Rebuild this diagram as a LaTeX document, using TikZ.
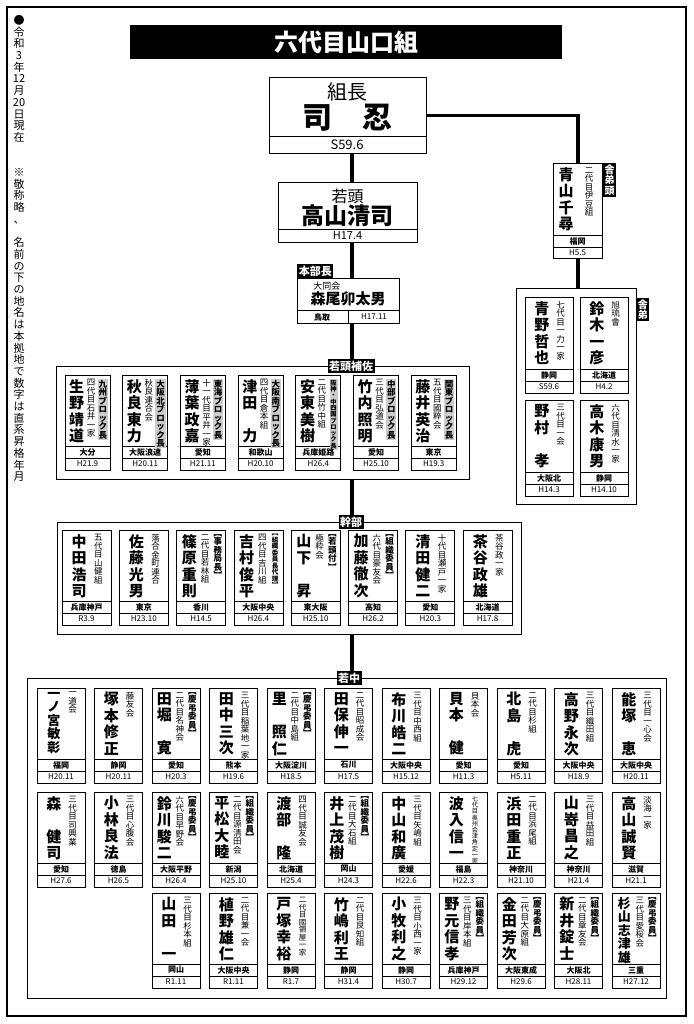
\documentclass[tikz,border=0pt]{standalone}
\usepackage{fontspec}
\setmainfont{Noto Sans CJK JP}
\usepackage{tikz}
\usetikzlibrary{positioning}

\makeatletter
% vertical text: one token per line
\def\vt@end{\@nil}
\newcommand\vt[1]{\def\vsbuf{}\vt@#1\@nil
  \vbox{\lineskiplimit=-\maxdimen\lineskip=0pt\halign{\hfil##\hfil\cr\vsbuf\cr}}}
\def\vt@#1{\def\vt@tmp{#1}%
  \ifx\vt@tmp\vt@end\else
    \ifx\vsbuf\@empty\def\vsbuf{#1}\else
      \expandafter\def\expandafter\vsbuf\expandafter{\vsbuf\cr#1}\fi
    \expandafter\vt@\fi}
\makeatother

\newcommand\blk[2][8.5]{\fontsize{#1}{#1}\selectfont\bfseries\setlength\fboxsep{0.8pt}\colorbox{black!20}{\vt{#2}}}
\newcommand\brk[2][8.5]{\fontsize{#1}{#1}\selectfont\bfseries\vt{︻#2︼}}
\newcommand\nmfont{\fontsize{15}{16.5}\selectfont\bfseries}

\newcount\mcnt
\def\bw{48}
\def\bh{95}
% #1 org size, #2 x, #3 y, #4 tag, #5 org, #6 name, #7 place, #8 year
\newcommand\member[8][8.5]{%
  \global\advance\mcnt by 1
  \draw[mbox] (#2,#3) rectangle ++(\bw,\bh);
  \draw[thin] (#2,{#3+\bh-24}) -- ++(\bw,0);
  \draw[thin] (#2,{#3+\bh-12}) -- ++(\bw,0);
  \def\tmptag{#4}%
  \ifx\tmptag\empty
    \node[anchor=north, inner sep=0] (m\the\mcnt-n) at ({#2+0.35*\bw},{#3+4}) {\nmfont\vt{#6}};
    \node[anchor=north, inner sep=0] (m\the\mcnt-o) at ({#2+0.74*\bw},{#3+4}) {\fontsize{#1}{#1}\selectfont\vt{#5}};
  \else
    \node[anchor=north, inner sep=0] (m\the\mcnt-n) at ({#2+0.26*\bw},{#3+4}) {\nmfont\vt{#6}};
    \node[anchor=north, inner sep=0] (m\the\mcnt-o) at ({#2+0.58*\bw},{#3+4}) {\fontsize{#1}{#1}\selectfont\vt{#5}};
    \node[anchor=north, inner sep=0] (m\the\mcnt-t) at ({#2+0.84*\bw},{#3+4}) {#4};
  \fi
  \node[place] (m\the\mcnt-p) at ({#2+\bw/2},{#3+\bh-18}) {#7};
  \node[year] (m\the\mcnt-y) at ({#2+\bw/2},{#3+\bh-6}) {#8};
}

\begin{document}
\begin{tikzpicture}[x=1pt, y=-1pt, line width=0.6pt,
    mbox/.style={draw, fill=white, line width=0.7pt},
    frame/.style={draw, fill=white, line width=1.1pt, anchor=north west, inner sep=0},
    spine/.style={line width=3.5pt},
    tag/.style={fill=black, text=white, font=\fontsize{11}{11}\selectfont\bfseries, inner sep=1.5pt},
    place/.style={font=\fontsize{8}{8}\selectfont\bfseries, inner sep=0},
    year/.style={font=\fontsize{8}{8}\selectfont, inner sep=0}]
\useasboundingbox (0,0) rectangle (693,1024);
\draw[line width=1.6pt] (7,7) rectangle (686,1016);

% note and title
\node[anchor=north, inner sep=0] (note) at (19,15)
  {\fontsize{11}{11.7}\selectfont\vt{●令和3年{12}月{20}日現在　　※敬称略、　名前の下の地名は本拠地で数字は直系昇格年月}};
\node[fill=black, text=white, minimum width=432, minimum height=34, inner sep=0,
  font=\fontsize{24}{24}\selectfont\bfseries] (title) at (346,42) {六代目山口組};

% frames
\node[frame, minimum width=413, minimum height=113] (hosa) at (56,366) {};
\node[frame, minimum width=464, minimum height=112] (kanbu) at (57,522) {};
\node[frame, minimum width=639, minimum height=320] (wakanaka) at (27,678) {};
\node[frame, minimum width=120, minimum height=216] (shatei) at (516,288) {};

% top boxes
\node[mbox, anchor=north west, minimum width=157, minimum height=76, inner sep=0] (boss) at (269,77) {};
\node[mbox, anchor=north west, minimum width=139, minimum height=60, inner sep=0] (kashira) at (278,182) {};
\node[mbox, anchor=north west, minimum width=102, minimum height=45, inner sep=0] (honbu) at (297,278) {};
\node[mbox, anchor=north west, minimum width=49, minimum height=95, inner sep=0] (sgh) at (553,163) {};

% connectors
\coordinate (sp) at (352,0);
\draw[spine] (boss.south -| sp) -- (kashira.north -| sp);
\draw[spine] (kashira.south -| sp) -- (honbu.north -| sp);
\draw[spine] (honbu.south -| sp) -- (hosa.north -| sp);
\draw[spine] (hosa.south -| sp) -- (kanbu.north -| sp);
\draw[spine] (kanbu.south -| sp) -- (wakanaka.north -| sp);
\draw[spine] (boss.east) -| (sgh.north);
\draw[spine] (sgh.south) -- (shatei.north -| sgh.south);

% boss
\node (boss-t) at (347,92) {\fontsize{20}{20}\selectfont 組長};
\node (boss-n) at (347,118) {\fontsize{30}{30}\selectfont\bfseries 司　忍};
\draw (boss.west |- 0,136) -- (boss.east |- 0,136);
\node (boss-y) at (347,145) {\fontsize{13}{13}\selectfont S59.6};
% kashira
\node (kashira-t) at (347.5,196) {\fontsize{16}{16}\selectfont 若頭};
\node (kashira-n) at (347.5,216) {\fontsize{23}{23}\selectfont\bfseries 高山清司};
\draw (kashira.west |- 0,229) -- (kashira.east |- 0,229);
\node (kashira-y) at (347.5,236) {\fontsize{11}{11}\selectfont H17.4};
% honbu
\node[tag, anchor=south west] (t-honbu) at (honbu.north west) {本部長};
\node[anchor=west, inner sep=0] (honbu-o) at (313,286) {\fontsize{9}{9}\selectfont 大同会};
\node (honbu-n) at (348,299) {\fontsize{15}{15}\selectfont\bfseries 森尾卯太男};
\draw (honbu.west |- 0,310) -- (honbu.east |- 0,310);
\draw (348,310) -- (348,323);
\node[place] (honbu-p) at (322,317) {鳥取};
\node[year] (honbu-y) at (374,317) {H17.11};
% shatei-gashira
\node[tag, anchor=north west, font=\fontsize{10}{10.5}\selectfont\bfseries] (t-sgh) at (sgh.north east) {\vt{舎弟頭}};
\node[anchor=north, inner sep=0] (sgh-n) at (566,167) {\nmfont\vt{青山千尋}};
\node[anchor=north, inner sep=0] (sgh-o) at (589,167) {\fontsize{8.5}{8.5}\selectfont\vt{二代目伊豆組}};
\draw[thin] (553,235) -- (602,235);
\draw[thin] (553,247) -- (602,247);
\node[place] (sgh-p) at (577.5,241) {福岡};
\node[year] (sgh-y) at (577.5,253) {H5.5};

% tags
\node[tag] (t-hosa) at (351,366) {若頭補佐};
\node[tag] (t-kanbu) at (351,522) {幹部};
\node[tag] (t-wakanaka) at (349,678) {若中};
\node[tag, anchor=north west, font=\fontsize{10}{10.5}\selectfont\bfseries] (t-shatei) at (636,298) {\vt{舎弟}};

% shatei
\def\bh{96}
\member{525}{297}{}{七代目一力一家}{青野哲也}{静岡}{S59.6}
\member{580}{297}{}{旭琉會}{鈴木一彦}{北海道}{H4.2}
\member{525}{400}{}{三代目一会}{野村　孝}{大阪北}{H14.3}
\member{580}{400}{}{六代目清水一家}{高木康男}{静岡}{H14.10}

% wakagashira-hosa
\def\bw{45}\def\bh{95}
\member{65}{375}{\blk{九州ブロック長}}{四代目石井一家}{生野靖道}{大分}{H21.9}
\member{122.7}{375}{\blk{大阪北ブロック長}}{秋良連合会}{秋良東力}{大阪浪速}{H20.11}
\member{180.4}{375}{\blk{東海ブロック長}}{十一代目平井一家}{薄葉政嘉}{愛知}{H21.11}
\member{238.1}{375}{\blk{大阪南ブロック長}}{四代目倉本組}{津田　力}{和歌山}{H20.10}
\member{295.8}{375}{\blk[6.3]{阪神・中四国ブロック長}}{二代目竹中組}{安東美樹}{兵庫姫路}{H26.4}
\member{353.5}{375}{\blk{中部ブロック長}}{三代目弘道会}{竹内照明}{愛知}{H25.10}
\member{411.2}{375}{\blk{関東ブロック長}}{五代目國粹会}{藤井英治}{東京}{H19.3}

% kanbu
\def\bw{49}
\member{62}{530}{}{五代目山健組}{中田浩司}{兵庫神戸}{R3.9}
\member{119.3}{530}{}{落合金町連合}{佐藤光男}{東京}{H23.10}
\member{176.6}{530}{\brk{事務局長}}{二代目若林組}{篠原重則}{香川}{H14.5}
\member{233.9}{530}{\brk[6.5]{組織委員長代理}}{四代目吉川組}{吉村俊平}{大阪中央}{H26.4}
\member{291.2}{530}{\brk{若頭付}}{極粋会}{山下　昇}{東大阪}{H25.10}
\member{348.5}{530}{\brk{組織委員}}{六代目豪友会}{加藤徹次}{高知}{H26.2}
\member{405.8}{530}{}{十代目瀬戸一家}{清田健二}{愛知}{H20.3}
\member{463.1}{530}{}{茶谷政一家}{茶谷政雄}{北海道}{H17.8}

% wakanaka
\def\bw{48}
{\renewcommand\nmfont{\fontsize{13}{13.5}\selectfont\bfseries}
\member{37}{688}{}{一道会}{一ノ宮敏彰}{福岡}{H20.11}}
\member{94.5}{688}{}{藤友会}{塚本修正}{静岡}{H20.11}
\member{152}{688}{\brk{慶弔委員}}{二代目名神会}{田堀　寛}{愛知}{H20.3}
\member{209.5}{688}{}{三代目稲葉地一家}{田中三次}{熊本}{H19.6}
\member{267}{688}{\brk{慶弔委員}}{二代目中島組}{里　照仁}{大阪淀川}{H18.5}
\member{324.5}{688}{}{二代目昭成会}{田保伸一}{石川}{H17.5}
\member{382}{688}{}{三代目中西組}{布川皓二}{大阪中央}{H15.12}
\member{439.5}{688}{}{貝本会}{貝本　健}{愛知}{H11.3}
\member{497}{688}{}{二代目杉組}{北島　虎}{愛知}{H5.11}
\member{554.5}{688}{}{三代目織田組}{高野永次}{大阪中央}{H18.9}
\member{612}{688}{}{三代目一心会}{能塚　恵}{大阪中央}{H20.11}

\member{37}{792}{}{三代目司興業}{森　健司}{愛知}{H27.6}
\member{94.5}{792}{}{三代目心腹会}{小林良法}{徳島}{H26.5}
\member{152}{792}{\brk{慶弔委員}}{六代目早野会}{鈴川駿二}{大阪平野}{H26.4}
\member{209.5}{792}{\brk{組織委員}}{二代目源清田会}{平松大睦}{新潟}{H25.10}
\member{267}{792}{}{四代目誠友会}{渡部　隆}{北海道}{H25.4}
\member{324.5}{792}{\brk{組織委員}}{二代目大石組}{井上茂樹}{岡山}{H24.3}
\member{382}{792}{}{三代目矢嶋組}{中山和廣}{愛媛}{H22.6}
\member[6.2]{439.5}{792}{}{七代目奥州会津角定一家}{波入信一}{福島}{H22.3}
\member{497}{792}{}{二代目浜尾組}{浜田重正}{神奈川}{H21.10}
\member{554.5}{792}{}{三代目益田組}{山嵜昌之}{神奈川}{H21.4}
\member{612}{792}{}{淡海一家}{高山誠賢}{滋賀}{H21.1}

\member{152}{893}{}{三代目杉本組}{山田　一}{岡山}{R1.11}
\member{209.5}{893}{}{二代目兼一会}{植野雄仁}{大阪中央}{R1.11}
\member[7.5]{267}{893}{}{二代目國領屋一家}{戸塚幸裕}{静岡}{R1.7}
\member{324.5}{893}{}{二代目良知組}{竹嶋利王}{静岡}{H31.4}
\member{382}{893}{}{三代目小西一家}{小牧利之}{静岡}{H30.7}
\member{439.5}{893}{\brk{組織委員}}{三代目岸本組}{野元信孝}{兵庫神戸}{H29.12}
\member{497}{893}{\brk{慶弔委員}}{二代目大原組}{金田芳次}{大阪東成}{H29.6}
\member{554.5}{893}{\brk{組織委員}}{二代目章友会}{新井錠士}{大阪北}{H28.11}
{\renewcommand\nmfont{\fontsize{13}{13.5}\selectfont\bfseries}
\member{612}{893}{\brk{慶弔委員}}{三代目愛桜会}{杉山志津雄}{三重}{H27.12}}
\end{tikzpicture}
\end{document}
